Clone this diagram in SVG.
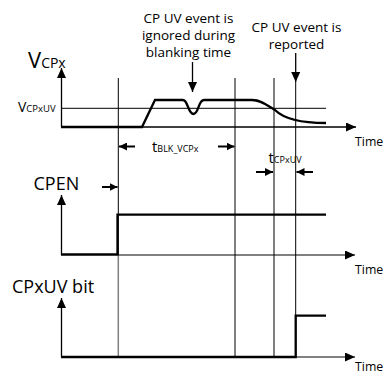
<svg xmlns="http://www.w3.org/2000/svg" width="385" height="374" viewBox="0 0 385 374">
<defs>
<style>
text{font-family:"Open Sans","Liberation Sans",sans-serif;fill:#000}
.lbl{font-size:13.5px;text-anchor:middle}
.big{font-size:18px}
.time{font-size:12.3px}
.axis{stroke:#000;stroke-width:1.3;fill:none}
.gaxis{stroke:#808080;stroke-width:2;fill:none}
.wave{stroke:#000;stroke-width:2.3;fill:none;stroke-linejoin:miter}
.thin{stroke:#000;stroke-width:1;fill:none}
.gthin{stroke:#808080;stroke-width:1.5;fill:none}
.sarr{stroke:#000;stroke-width:2;fill:none}
</style>
<marker id="ah" viewBox="0 0 10 9" refX="10" refY="4.5" markerWidth="10" markerHeight="9" markerUnits="userSpaceOnUse" orient="auto"><path d="M0,0L10,4.5L0,9z" fill="#000"/></marker>
<marker id="sh" viewBox="0 0 8 8" refX="8" refY="4" markerWidth="8" markerHeight="8" markerUnits="userSpaceOnUse" orient="auto"><path d="M0,0L8,4L0,8z" fill="#000"/></marker>
</defs>
<g id="connectors">
<line class="axis" x1="61.5" y1="127" x2="61.5" y2="68" marker-end="url(#ah)"/>
<line class="axis" x1="61.5" y1="255" x2="61.5" y2="195" marker-end="url(#ah)"/>
<line class="axis" x1="61.5" y1="357" x2="61.5" y2="298" marker-end="url(#ah)"/>
<line class="axis" x1="61" y1="127" x2="356" y2="127" marker-end="url(#ah)"/>
<line class="gaxis" x1="118" y1="255" x2="355" y2="255" marker-end="url(#ah)"/>
<line class="gaxis" x1="296" y1="357" x2="355" y2="357" marker-end="url(#ah)"/>
<line class="thin" x1="61" y1="108.3" x2="326" y2="108.3"/>
<line class="thin" x1="118.3" y1="78" x2="118.3" y2="255"/>
<line class="gthin" x1="118.3" y1="255" x2="118.3" y2="357"/>
<line class="thin" x1="235" y1="78" x2="235" y2="357"/>
<line class="thin" x1="274" y1="78" x2="274" y2="357"/>
<line class="thin" x1="295.7" y1="82" x2="295.7" y2="357"/>
<line class="thin" x1="192.5" y1="62" x2="192.5" y2="92" marker-end="url(#ah)" style="stroke-width:1.3"/>
<line class="thin" x1="295.7" y1="53" x2="295.7" y2="82" marker-end="url(#ah)" style="stroke-width:1.3"/>
<line class="sarr" x1="135" y1="146.5" x2="119" y2="146.5" marker-end="url(#sh)"/>
<line class="sarr" x1="218" y1="146.5" x2="234.5" y2="146.5" marker-end="url(#sh)"/>
<line class="sarr" x1="102" y1="187" x2="117.5" y2="187" marker-end="url(#sh)"/>
<line class="sarr" x1="256" y1="172" x2="273" y2="172" marker-end="url(#sh)"/>
<line class="sarr" x1="313" y1="172" x2="296.5" y2="172" marker-end="url(#sh)"/>
</g>
<g id="vcpx-wave">
<path class="wave" d="M61,127 L142,127 L155,100 L183,100 C188,100 188,114 193.5,114 C199,114 198,100 204,100 L252,100 C262,100 268,106 275,110 C283,118 300,123 326,123"/>
</g>
<g id="cpen-wave">
<path class="wave" d="M61,254.5 L117.5,254.5 L117.5,214.7 L326,214.7"/>
</g>
<g id="cpxuv-wave">
<path class="wave" d="M61,357 L295.7,357 L295.7,315.7 L326,315.7"/>
</g>
<g id="labels">
<text x="28" y="68"><tspan font-size="22">V</tspan><tspan font-size="14">CPx</tspan></text>
<text x="18" y="112"><tspan font-size="14">V</tspan><tspan font-size="9.5">CPxUV</tspan></text>
<text class="big" x="33.5" y="190">CPEN</text>
<text class="big" x="12" y="293">CPxUV bit</text>
<text x="152" y="151.5"><tspan font-size="15">t</tspan><tspan font-size="9">BLK_VCPx</tspan></text>
<text x="268.5" y="163"><tspan font-size="15">t</tspan><tspan font-size="9">CPxUV</tspan></text>
<text class="time" x="355" y="145.5">Time</text>
<text class="time" x="355" y="273.5">Time</text>
<text class="time" x="355" y="370.5">Time</text>
</g>
<g id="note-ignored">
<text class="lbl" x="188.5" y="22.5">CP UV event is</text>
<text class="lbl" x="188.5" y="39.5">ignored during</text>
<text class="lbl" x="188.5" y="56.5">blanking time</text>
</g>
<g id="note-reported">
<text class="lbl" x="296.5" y="31.5">CP UV event is</text>
<text class="lbl" x="296.5" y="48.5">reported</text>
</g>
</svg>
